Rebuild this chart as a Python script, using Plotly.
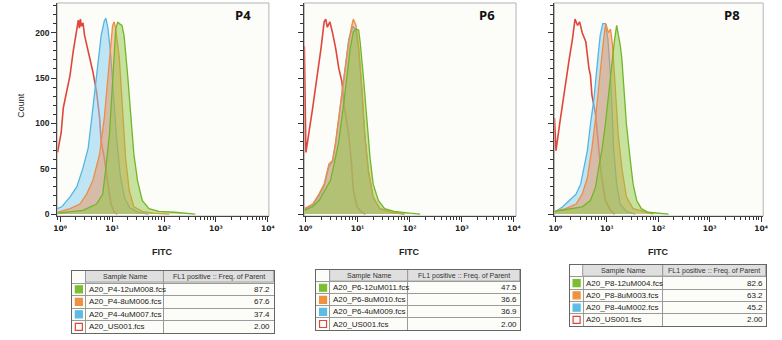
import plotly.graph_objects as go

W, H = 782, 340

# ---------------- data (log10 FITC positions, counts) ----------------
P4_RED_LOGX = [-0.05, 0.02, 0.06, 0.12, 0.19, 0.25, 0.29, 0.32, 0.35, 0.37, 0.39, 0.41, 0.44, 0.47, 0.52, 0.57, 0.63, 0.70, 0.76, 0.79, 0.85, 0.92, 0.98, 1.04, 1.10]
P4_RED_Y = [68, 90, 117, 135, 153, 179, 192, 204, 214, 205, 215, 207, 211, 197, 185, 172, 157, 135, 106, 80, 62, 33, 11, 2, 0]
P4_BLUE_LOGX = [-0.06, 0.03, 0.19, 0.32, 0.44, 0.54, 0.60, 0.66, 0.73, 0.79, 0.85, 0.88, 0.92, 0.97, 1.03, 1.09, 1.16, 1.24, 1.34, 1.5, 1.7]
P4_BLUE_Y = [6, 8, 19, 30, 51, 73, 102, 131, 168, 197, 213, 216, 205, 178, 130, 82, 42, 18, 7, 2, 0]
P4_ORANGE_LOGX = [-0.05, 0.19, 0.38, 0.51, 0.63, 0.76, 0.85, 0.92, 0.98, 1.01, 1.04, 1.07, 1.14, 1.20, 1.26, 1.33, 1.42, 1.58, 1.8, 2.1]
P4_ORANGE_Y = [2, 6, 11, 22, 37, 66, 106, 153, 190, 208, 212, 204, 172, 117, 62, 26, 8, 3, 1, 0]
P4_GREEN_LOGX = [-0.05, 0.13, 0.44, 0.70, 0.82, 0.88, 0.95, 1.01, 1.04, 1.07, 1.11, 1.14, 1.19, 1.23, 1.30, 1.36, 1.42, 1.49, 1.58, 1.71, 1.9, 2.2, 2.5, 2.6]
P4_GREEN_Y = [1, 2, 4, 11, 22, 51, 88, 146, 182, 204, 212, 210, 208, 197, 153, 106, 66, 37, 15, 6, 3, 2, 1, 0]

P6_RED_LOGX = [-0.02, 0.01, 0.14, 0.23, 0.30, 0.36, 0.39, 0.42, 0.47, 0.52, 0.58, 0.64, 0.70, 0.74, 0.77, 0.83, 0.88, 0.92, 0.99, 1.08, 1.15]
P6_RED_Y = [185, 68, 117, 153, 183, 212, 215, 206, 212, 200, 183, 161, 146, 121, 110, 88, 59, 26, 8, 2, 0]
P6_BLUE_LOGX = [-0.02, 0.14, 0.26, 0.36, 0.45, 0.52, 0.58, 0.64, 0.70, 0.77, 0.83, 0.87, 0.91, 0.96, 1.02, 1.08, 1.14, 1.21, 1.30, 1.43, 1.65, 1.9]
P6_BLUE_Y = [5, 10, 20, 31, 52, 58, 78, 104, 133, 163, 192, 200, 207, 204, 183, 138, 85, 46, 18, 6, 2, 0]
P6_ORANGE_LOGX = [-0.02, 0.14, 0.26, 0.36, 0.45, 0.52, 0.58, 0.64, 0.70, 0.77, 0.83, 0.89, 0.92, 0.97, 1.02, 1.08, 1.14, 1.21, 1.30, 1.43, 1.65, 1.9]
P6_ORANGE_Y = [6, 11, 22, 33, 55, 59, 80, 106, 135, 164, 190, 208, 215, 208, 186, 142, 88, 48, 19, 6, 2, 0]
P6_GREEN_LOGX = [-0.02, 0.14, 0.26, 0.39, 0.48, 0.55, 0.64, 0.74, 0.80, 0.86, 0.92, 0.97, 1.02, 1.05, 1.11, 1.18, 1.24, 1.30, 1.40, 1.52, 1.7, 2.0, 2.2]
P6_GREEN_Y = [4, 8, 15, 28, 37, 55, 80, 124, 153, 183, 201, 204, 203, 190, 153, 106, 62, 33, 15, 6, 3, 1, 0]

P8_RED_LOGX = [-0.02, 0.01, 0.08, 0.17, 0.27, 0.33, 0.38, 0.43, 0.47, 0.52, 0.59, 0.65, 0.68, 0.71, 0.78, 0.84, 0.89, 0.97, 1.07, 1.15]
P8_RED_Y = [106, 70, 99, 135, 172, 193, 215, 208, 212, 200, 190, 161, 153, 131, 110, 73, 44, 15, 4, 0]
P8_BLUE_LOGX = [-0.02, 0.14, 0.27, 0.40, 0.49, 0.56, 0.62, 0.68, 0.75, 0.81, 0.87, 0.92, 0.97, 1.02, 1.07, 1.10, 1.13, 1.19, 1.26, 1.38, 1.55]
P8_BLUE_Y = [2, 8, 15, 22, 33, 51, 70, 99, 128, 164, 197, 210, 210, 193, 153, 117, 73, 33, 11, 3, 0]
P8_ORANGE_LOGX = [-0.02, 0.20, 0.40, 0.52, 0.62, 0.71, 0.78, 0.84, 0.91, 0.96, 0.98, 1.03, 1.07, 1.11, 1.16, 1.22, 1.29, 1.38, 1.51, 1.74, 1.9]
P8_ORANGE_Y = [3, 6, 11, 22, 40, 73, 106, 142, 179, 204, 210, 200, 204, 186, 142, 88, 51, 19, 6, 2, 0]
P8_GREEN_LOGX = [-0.02, 0.33, 0.52, 0.68, 0.78, 0.84, 0.91, 0.97, 1.03, 1.10, 1.15, 1.19, 1.22, 1.26, 1.29, 1.34, 1.38, 1.45, 1.51, 1.58, 1.67, 1.80, 2.0, 2.2]
P8_GREEN_Y = [3, 6, 8, 15, 30, 51, 73, 99, 131, 168, 193, 208, 200, 186, 172, 135, 99, 62, 33, 15, 6, 2, 1, 0]

PANEL_LABELS = ["P4", "P6", "P8"]
X_TICKVALS = [1, 10, 100, 1000, 10000]
X_TICKTEXT = ["10⁰", "10¹", "10²", "10³", "10⁴"]
Y_TICKVALS = [0, 50, 100, 150, 200]

P4_NAMES = ["A20_P4-12uM008.fcs", "A20_P4-8uM006.fcs", "A20_P4-4uM007.fcs", "A20_US001.fcs"]
P4_FREQ = ["87.2", "67.6", "37.4", "2.00"]
P6_NAMES = ["A20_P6-12uM011.fcs", "A20_P6-8uM010.fcs", "A20_P6-4uM009.fcs", "A20_US001.fcs"]
P6_FREQ = ["47.5", "36.6", "36.9", "2.00"]
P8_NAMES = ["A20_P8-12uM004.fcs", "A20_P8-8uM003.fcs", "A20_P8-4uM002.fcs", "A20_US001.fcs"]
P8_FREQ = ["82.6", "63.2", "45.2", "2.00"]
HEADER_NAME = "Sample Name"
HEADER_FREQ = "FL1 positive :: Freq. of Parent"

# ---------------- styles ----------------
FONT = "Liberation Sans, Arial, sans-serif"
TICKFONT = "DejaVu Sans, Liberation Sans, sans-serif"
RED = "#e0463a"
BLUE_LINE, BLUE_FILL = "#55b5e2", "rgba(140,208,240,0.55)"
ORANGE_LINE, ORANGE_FILL = "#f08c42", "rgba(240,145,85,0.48)"
GREEN_LINE, GREEN_FILL = "#72b52a", "rgba(140,198,60,0.48)"
SWATCH_COLORS = ["#7cbd32", "#f0913f", "#5dbbe4", "white"]
SWATCH_LINES = ["#7cbd32", "#f0913f", "#5dbbe4", "#e0463a"]
GRID = "#9a9a9a"

def px_x(p):
    return p / W

def px_y(p):
    return 1 - p / H

PANELS = [
    dict(x0=52, x1=267, xr=[-0.057, 4.02], label_x=241, fitc_x=158,
         series=[(P4_RED_LOGX, P4_RED_Y), (P4_BLUE_LOGX, P4_BLUE_Y), (P4_ORANGE_LOGX, P4_ORANGE_Y), (P4_GREEN_LOGX, P4_GREEN_Y)],
         names=P4_NAMES, freq=P4_FREQ, tx=(67, 272), ty=(273, 336), cw=[14, 79, 112]),
    dict(x0=303, x1=518, xr=[-0.02, 4.04], label_x=489, fitc_x=409,
         series=[(P6_RED_LOGX, P6_RED_Y), (P6_BLUE_LOGX, P6_BLUE_Y), (P6_ORANGE_LOGX, P6_ORANGE_Y), (P6_GREEN_LOGX, P6_GREEN_Y)],
         names=P6_NAMES, freq=P6_FREQ, tx=(315, 522), ty=(272, 333), cw=[14, 79, 114]),
    dict(x0=557, x1=769, xr=[-0.02, 4.04], label_x=737, fitc_x=662,
         series=[(P8_RED_LOGX, P8_RED_Y), (P8_BLUE_LOGX, P8_BLUE_Y), (P8_ORANGE_LOGX, P8_ORANGE_Y), (P8_GREEN_LOGX, P8_GREEN_Y)],
         names=P8_NAMES, freq=P8_FREQ, tx=(573, 772), ty=(267, 329), cw=[13, 81, 105]),
]

fig = go.Figure()
layout = dict(
    width=W, height=H, margin=dict(l=0, r=0, t=0, b=0),
    paper_bgcolor="white", plot_bgcolor="#fcfcf8",
    showlegend=False, font=dict(family=FONT, color="#222"), bargap=0,
)
annotations = []
shapes = []

def axname(n):
    return ("x" if n == 1 else f"x{n}"), ("y" if n == 1 else f"y{n}")

for i, p in enumerate(PANELS):
    n = i + 1
    xa, ya = axname(n)
    (rx, ry), (bx, by), (ox, oy), (gx, gy) = p["series"]
    fig.add_trace(go.Scatter(x=[10 ** v for v in rx], y=ry, mode="lines",
                             line=dict(color=RED, width=1.6), xaxis=xa, yaxis=ya))
    fig.add_trace(go.Scatter(x=[10 ** v for v in bx], y=by, mode="lines", fill="tozeroy",
                             fillcolor=BLUE_FILL, line=dict(color=BLUE_LINE, width=1.3), xaxis=xa, yaxis=ya))
    fig.add_trace(go.Scatter(x=[10 ** v for v in ox], y=oy, mode="lines", fill="tozeroy",
                             fillcolor=ORANGE_FILL, line=dict(color=ORANGE_LINE, width=1.3), xaxis=xa, yaxis=ya))
    fig.add_trace(go.Scatter(x=[10 ** v for v in gx], y=gy, mode="lines", fill="tozeroy",
                             fillcolor=GREEN_FILL, line=dict(color=GREEN_LINE, width=1.3), xaxis=xa, yaxis=ya))

    xkey = "xaxis" if n == 1 else f"xaxis{n}"
    ykey = "yaxis" if n == 1 else f"yaxis{n}"
    layout[xkey] = dict(
        type="log", range=p["xr"], domain=[px_x(p["x0"]), px_x(p["x1"])], anchor=ya,
        tickvals=X_TICKVALS, ticktext=X_TICKTEXT, ticks="outside", ticklen=5, tickwidth=1,
        tickcolor="#333", showline=True, linecolor="#444", linewidth=1.2, showgrid=False,
        zeroline=False, tickfont=dict(size=7.5, family=TICKFONT, color="#222", weight="bold"),
        minor=dict(ticks="outside", ticklen=3, tickcolor="#333", dtick="D1", showgrid=False),
    )
    layout[ykey] = dict(
        range=[-2.2, 232.8], domain=[px_y(218), px_y(3)], anchor=xa,
        tickvals=Y_TICKVALS, ticks="outside", ticklen=5, tickcolor="#333", tickwidth=1,
        showticklabels=(n == 1), showline=True, linecolor="#444", linewidth=1.2,
        showgrid=False, zeroline=False, tickfont=dict(size=8.5, family=FONT, color="#222", weight="bold"),
        minor=dict(ticks="outside", ticklen=3, tickcolor="#333", dtick=10, showgrid=False),
    )
    shapes.append(dict(type="rect", xref=f"{xa} domain", yref=f"{ya} domain", x0=0, x1=1, y0=0, y1=1,
                       line=dict(color="#b4b4b4", width=1), layer="below"))
    annotations.append(dict(text=f"<b>{PANEL_LABELS[i]}</b>", x=px_x(p["label_x"]), y=px_y(15),
                            xref="paper", yref="paper", showarrow=False, xanchor="center", yanchor="middle",
                            font=dict(size=13, family="Open Sans, Liberation Sans, sans-serif", color="#111")))
    annotations.append(dict(text="<b>FITC</b>", x=px_x(p["fitc_x"]), y=px_y(254), xref="paper", yref="paper",
                            showarrow=False, xanchor="center", yanchor="middle",
                            font=dict(size=9, family=FONT, color="#222")))

    # ---------- table drawn on its own hidden axes (x: pixels across, y: row index) ----------
    tn = n + 3
    txa, tya = axname(tn)
    c0, c1, c2 = p["cw"]
    b1, b2, b3 = c0, c0 + c1, c0 + c1 + c2
    rows = [1, 2, 3, 4]
    fig.add_trace(go.Bar(x=[c1, c2], base=[b1, b2], y=[0, 0], orientation="h", width=1,
                         marker=dict(color="#dfdfdf", line=dict(color=GRID, width=1)),
                         xaxis=txa, yaxis=tya, hoverinfo="skip"))
    fig.add_trace(go.Scatter(x=[c0 / 2] * 4, y=rows, mode="markers",
                             marker=dict(symbol="square", size=7, color=SWATCH_COLORS,
                                         line=dict(color=SWATCH_LINES, width=1.2)),
                             xaxis=txa, yaxis=tya, hoverinfo="skip"))
    for hx, ht in zip([(b1 + b2) / 2, (b2 + b3) / 2], [HEADER_NAME, HEADER_FREQ]):
        annotations.append(dict(text=ht, x=hx, y=0, xref=txa, yref=tya, showarrow=False,
                                xanchor="center", yanchor="middle",
                                font=dict(size=7, family=FONT, color="#333")))
    for r, name, val in zip(rows, p["names"], p["freq"]):
        annotations.append(dict(text=name, x=b1 + 1.5, y=r, xref=txa, yref=tya, showarrow=False,
                                xanchor="left", yanchor="middle",
                                font=dict(size=8, family=FONT, color="#222")))
        annotations.append(dict(text=val, x=b3 - 1.5, y=r, xref=txa, yref=tya, showarrow=False,
                                xanchor="right", yanchor="middle",
                                font=dict(size=8, family=FONT, color="#222")))
    layout[f"xaxis{tn}"] = dict(
        range=[0, b3], domain=[px_x(p["tx"][0]), px_x(p["tx"][1])], anchor=tya,
        tickvals=[b1, b2], showticklabels=False, ticks="", showgrid=True, gridcolor=GRID, gridwidth=1,
        zeroline=False, showline=True, mirror=True, linecolor="#666", linewidth=1.3, fixedrange=True,
    )
    layout[f"yaxis{tn}"] = dict(
        range=[4.5, -0.5], domain=[px_y(p["ty"][1]), px_y(p["ty"][0])], anchor=txa,
        tickvals=[0.5, 1.5, 2.5, 3.5], showticklabels=False, ticks="", showgrid=True, gridcolor=GRID,
        gridwidth=1, zeroline=False, showline=True, mirror=True, linecolor="#666", linewidth=1.3,
        fixedrange=True,
    )

annotations.append(dict(text="Count", x=px_x(15), y=px_y(106), xref="paper", yref="paper", showarrow=False,
                        xanchor="center", yanchor="middle",
                        textangle=-90, font=dict(size=9, family=FONT, color="#222")))
layout["annotations"] = annotations
layout["shapes"] = shapes
fig.update_layout(**layout)
fig.write_html("out.html", config={"displayModeBar": False},
               post_script="document.body.style.margin='0px';")
